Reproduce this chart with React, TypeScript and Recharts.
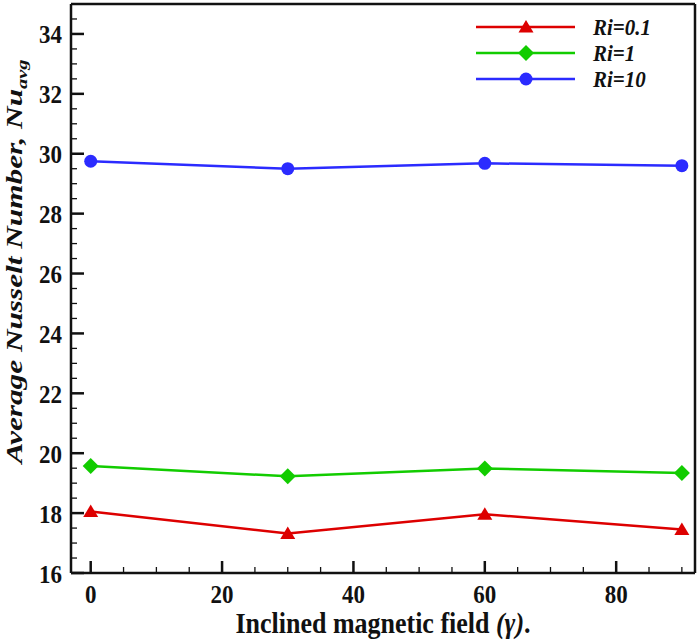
import React from 'react';
import { LineChart, Line, XAxis, YAxis, ReferenceLine, Legend } from 'recharts';

// inclination angle of the magnetic field (deg)
const angles = [0, 30, 60, 90];
// average Nusselt number for each Richardson number
const nuRi01 = [18.05, 17.32, 17.96, 17.45];
const nuRi1 = [19.57, 19.23, 19.49, 19.34];
const nuRi10 = [29.75, 29.5, 29.68, 29.6];

const xMajorTicks = [0, 20, 40, 60, 80];
const xMinorTicks = [5, 10, 15, 25, 30, 35, 45, 50, 55, 65, 70, 75, 85, 90];
const yMajorTicks = [16, 18, 20, 22, 24, 26, 28, 30, 32, 34];
const yMinorTicks = yMajorTicks.flatMap((v) => [v + 0.5, v + 1, v + 1.5]).filter((v) => v < 35);

const FONT = "'Liberation Serif', 'DejaVu Serif', serif";
const INK = '#111';

const series = [
  { key: 'ri01', name: 'Ri=0.1', color: '#dd0000', shape: 'triangle' },
  { key: 'ri1', name: 'Ri=1', color: '#12cc00', shape: 'diamond' },
  { key: 'ri10', name: 'Ri=10', color: '#2b2bff', shape: 'circle' },
];

const data = angles.map((a, i) => ({ angle: a, ri01: nuRi01[i], ri1: nuRi1[i], ri10: nuRi10[i] }));

const textStyle = (size: number, italic = false): React.CSSProperties => ({
  fontFamily: FONT,
  fontWeight: 700,
  fontStyle: italic ? 'italic' : 'normal',
  fontSize: size,
  fill: INK,
});

function Marker({ cx, cy, shape, color }: { cx: number; cy: number; shape: string; color: string }) {
  if (shape === 'triangle') {
    return <polygon points={`${cx},${cy - 7} ${cx - 7.5},${cy + 5.5} ${cx + 7.5},${cy + 5.5}`} fill={color} />;
  }
  if (shape === 'diamond') {
    return <polygon points={`${cx},${cy - 8} ${cx + 8},${cy} ${cx},${cy + 8} ${cx - 8},${cy}`} fill={color} />;
  }
  return <circle cx={cx} cy={cy} r={6.5} fill={color} />;
}

// the original figure is a little stretched vertically, so text gets a y-scale
const XTick = (props: any) => {
  const { x, y, payload } = props;
  const major = xMajorTicks.includes(payload.value);
  return (
    <g>
      <line x1={x} y1={y} x2={x} y2={y - (major ? 12 : 6)} stroke={INK} strokeWidth={major ? 2.5 : 1.3} />
      {major && (
        <text transform={`translate(${x},${y + 30}) scale(1,1.12)`} textAnchor="middle" style={textStyle(23)}>
          {payload.value}
        </text>
      )}
    </g>
  );
};

const YTick = (props: any) => {
  const { x, y, payload } = props;
  const major = yMajorTicks.includes(payload.value);
  return (
    <g>
      <line x1={x} y1={y} x2={x + (major ? 13 : 6)} y2={y} stroke={INK} strokeWidth={major ? 2.5 : 1.3} />
      {major && (
        <text transform={`translate(${x - 9},${y + 9.5}) scale(1,1.12)`} textAnchor="end" style={textStyle(23)}>
          {payload.value}
        </text>
      )}
    </g>
  );
};

const XTitle = (props: any) => {
  const { viewBox } = props;
  return (
    <text
      transform={`translate(${viewBox.x + viewBox.width / 2},${viewBox.y + 60}) scale(1,1.15)`}
      textAnchor="middle"
      style={textStyle(26)}
    >
      Inclined magnetic field <tspan style={{ fontStyle: 'italic' }}>(γ)</tspan>.
    </text>
  );
};

const YTitle = (props: any) => {
  const { viewBox } = props;
  const cx = viewBox.x + 22;
  const cy = viewBox.y + viewBox.height / 2 - 27;
  return (
    <text transform={`translate(${cx},${cy}) scale(1,1.36) rotate(-90)`} textAnchor="middle" style={textStyle(23, true)}>
      Average Nusselt Number, Nu<tspan style={{ fontSize: 15 }} dy={5}>avg</tspan>
    </text>
  );
};

const LegendBox = () => (
  <svg width={230} height={90}>
    {series.map((s, i) => {
      const y = 17 + i * 26;
      return (
        <g key={s.key}>
          <line x1={6} y1={y} x2={105} y2={y} stroke={s.color} strokeWidth={2.5} />
          <Marker cx={56} cy={y} shape={s.shape} color={s.color} />
          <text transform={`translate(123,${y + 8}) scale(1,1.12)`} style={textStyle(21, true)}>
            {s.name}
          </text>
        </g>
      );
    })}
  </svg>
);

export default function App() {
  return (
    <div style={{ position: 'absolute', left: 0, top: 0, width: 699, height: 641, background: '#fff' }}>
      <LineChart width={699} height={641} data={data} margin={{ top: 4, right: 4, bottom: 0, left: 0 }}>
        <XAxis
          dataKey="angle"
          type="number"
          domain={[-3, 92]}
          ticks={[...xMajorTicks, ...xMinorTicks]}
          interval={0}
          height={68}
          tickSize={0}
          tickMargin={0}
          tickLine={false}
          tick={<XTick />}
          axisLine={{ stroke: INK, strokeWidth: 2.5 }}
          label={{ content: XTitle }}
        />
        <YAxis
          type="number"
          domain={[16, 35]}
          ticks={[...yMajorTicks, ...yMinorTicks]}
          interval={0}
          width={71}
          tickSize={0}
          tickMargin={0}
          tickLine={false}
          tick={<YTick />}
          axisLine={{ stroke: INK, strokeWidth: 2.5 }}
          label={{ content: YTitle }}
          allowDataOverflow
        />
        <ReferenceLine y={35} stroke={INK} strokeWidth={2.5} />
        <ReferenceLine x={92} stroke={INK} strokeWidth={2.5} />
        <Legend
          layout="vertical"
          align="center"
          verticalAlign="middle"
          wrapperStyle={{ left: 470, top: 10, width: 230, height: 90 }}
          content={() => <LegendBox />}
        />
        {series.map((s) => (
          <Line
            key={s.key}
            dataKey={s.key}
            name={s.name}
            stroke={s.color}
            strokeWidth={2.5}
            isAnimationActive={false}
            dot={(p: any) => <Marker key={`${s.key}-${p.index}`} cx={p.cx} cy={p.cy} shape={s.shape} color={s.color} />}
            activeDot={false}
          />
        ))}
      </LineChart>
    </div>
  );
}
